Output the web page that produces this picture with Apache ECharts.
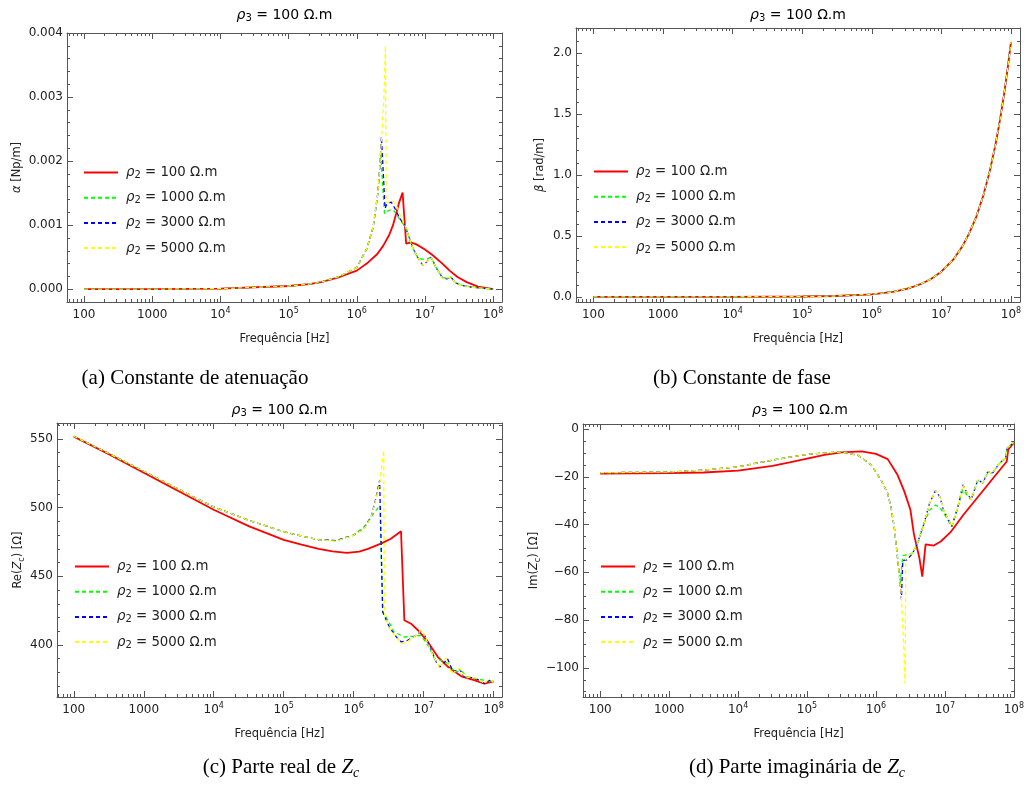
<!DOCTYPE html>
<html><head><meta charset="utf-8">
<script src="https://cdn.jsdelivr.net/npm/echarts@6/dist/echarts.min.js"></script>
<style>html,body{margin:0;padding:0;background:#fff}#c{width:1027px;height:794px}</style>
</head><body><div id="c"></div>
<script>
// ---------------- DATA ----------------
const seriesNames = ['ρ2 = 100 Ω.m', 'ρ2 = 1000 Ω.m', 'ρ2 = 3000 Ω.m', 'ρ2 = 5000 Ω.m'];
const rhoValues = ['100', '1000', '3000', '5000'];
const xTickExponents = [2, 3, 4, 5, 6, 7, 8];

// (a) attenuation constant alpha [Np/m] : [frequency Hz, value]
const alphaRho100 = [[100,0],[1e3,0.000001],[1e4,0.000008],[1e5,0.00005],[2e5,0.00008],[3e5,0.00011],[5.6e5,0.00019],[1e6,0.00029],[1.4e6,0.0004],[2e6,0.00055],[2.45e6,0.00068],[3e6,0.00085],[3.4e6,0.001],[4.2e6,0.00136],[4.7e6,0.00151],[5.3e6,0.00071],[6.2e6,0.00073],[7.5e6,0.0007],[1e7,0.00062],[1.3e7,0.00053],[1.8e7,0.0004],[2.3e7,0.00029],[3e7,0.00019],[4.1e7,0.00011],[6e7,0.00004],[1e8,0]];
const alphaRho1000 = [[100,0],[1e3,0.000001],[1e4,0.000008],[1e5,0.00005],[2e5,0.00008],[3e5,0.00011],[5.6e5,0.0002],[1e6,0.00034],[1.4e6,0.00063],[1.74e6,0.00097],[2.04e6,0.0015],[2.15e6,0.0018],[2.25e6,0.0021],[2.55e6,0.00118],[2.8e6,0.00122],[3.2e6,0.00124],[3.55e6,0.00122],[4.2e6,0.0011],[5.2e6,0.00097],[6.6e6,0.00065],[7.8e6,0.0005],[8.9e6,0.00047],[1.05e7,0.00047],[1.23e7,0.0005],[1.45e7,0.00034],[1.8e7,0.00018],[2.1e7,0.00017],[2.4e7,0.00019],[2.8e7,0.0001],[3.5e7,0.00006],[5e7,0.00003],[1e8,0]];
const alphaRho3000 = [[100,0],[1e3,0.000001],[1e4,0.000008],[1e5,0.00005],[2e5,0.00008],[3e5,0.00011],[5.6e5,0.0002],[1e6,0.00034],[1.4e6,0.00063],[1.74e6,0.00097],[2.04e6,0.0015],[2.2e6,0.002],[2.3e6,0.00238],[2.6e6,0.00126],[2.75e6,0.00133],[3.2e6,0.00136],[3.55e6,0.00128],[4.2e6,0.00112],[5.2e6,0.00097],[6.6e6,0.00065],[7.8e6,0.0005],[9.3e6,0.00037],[1.05e7,0.00042],[1.23e7,0.0005],[1.45e7,0.00034],[1.8e7,0.00018],[2.1e7,0.00016],[2.4e7,0.00019],[2.8e7,0.0001],[3.5e7,0.00006],[5e7,0.00003],[1e8,0]];
const alphaRho5000 = [[100,0],[1e3,0.000001],[1e4,0.000008],[1e5,0.00005],[2e5,0.00008],[3e5,0.00011],[5.6e5,0.0002],[1e6,0.00034],[1.4e6,0.00063],[1.74e6,0.00097],[2.04e6,0.0015],[2.2e6,0.002],[2.3e6,0.0023],[2.5e6,0.003],[2.63e6,0.0038],[2.7e6,0.00135],[3.4e6,0.00138],[3.9e6,0.00128],[4.4e6,0.00114],[5.2e6,0.00097],[6.6e6,0.00065],[7.8e6,0.0005],[9.3e6,0.00037],[1.05e7,0.00042],[1.23e7,0.0005],[1.45e7,0.00034],[1.8e7,0.00017],[2.4e7,0.00018],[2.8e7,0.0001],[3.5e7,0.00006],[5e7,0.00003],[1e8,0]];

// (b) phase constant beta [rad/m]
const betaRho100 = [[100,0.0002],[1e3,0.0006],[1e4,0.0015],[1e5,0.004],[3e5,0.008],[1e6,0.022],[2e6,0.042],[3.16e6,0.067],[4e6,0.085],[5e6,0.105],[7e6,0.146],[1e7,0.207],[1.5e7,0.31],[2e7,0.415],[2.5e7,0.52],[3.16e7,0.655],[4e7,0.83],[5e7,1.04],[6e7,1.25],[7e7,1.46],[8e7,1.67],[9e7,1.88],[1e8,2.09]];
const betaRho1000 = [[100,0.0002],[1e3,0.0006],[1e4,0.0015],[1e5,0.004],[3e5,0.008],[1e6,0.022],[2e6,0.042],[3.16e6,0.067],[4e6,0.085],[5e6,0.105],[7e6,0.146],[1e7,0.207],[1.5e7,0.31],[2e7,0.415],[2.5e7,0.52],[3.16e7,0.655],[4e7,0.83],[5e7,1.04],[6e7,1.25],[7e7,1.46],[8e7,1.67],[9e7,1.88],[1e8,2.09]];
const betaRho3000 = [[100,0.0002],[1e3,0.0006],[1e4,0.0015],[1e5,0.004],[3e5,0.008],[1e6,0.022],[2e6,0.042],[3.16e6,0.067],[4e6,0.085],[5e6,0.105],[7e6,0.146],[1e7,0.207],[1.5e7,0.31],[2e7,0.415],[2.5e7,0.52],[3.16e7,0.655],[4e7,0.83],[5e7,1.04],[6e7,1.25],[7e7,1.46],[8e7,1.67],[9e7,1.88],[1e8,2.09]];
const betaRho5000 = [[100,0.0002],[1e3,0.0006],[1e4,0.0015],[1e5,0.004],[3e5,0.008],[1e6,0.022],[2e6,0.042],[3.16e6,0.067],[4e6,0.085],[5e6,0.105],[7e6,0.146],[1e7,0.207],[1.5e7,0.31],[2e7,0.415],[2.5e7,0.52],[3.16e7,0.655],[4e7,0.83],[5e7,1.04],[6e7,1.25],[7e7,1.46],[8e7,1.67],[9e7,1.88],[1e8,2.09]];

// (c) Re(Zc) [Ohm]
const reRho100 = [[100,551.7],[316,539],[1e3,525.5],[3.16e3,512],[1e4,498.5],[3.16e4,486.5],[1e5,476.5],[1.8e5,473],[3.16e5,470],[5e5,468.2],[8e5,467],[1.2e6,468],[1.6e6,470],[2.45e6,473.8],[3.4e6,477.4],[4.75e6,482.8],[5.3e6,418],[6.6e6,415.5],[8.3e6,410.7],[1.15e7,402.2],[1.6e7,391.2],[2.25e7,383.9],[3.45e7,377.2],[5.4e7,374.2],[7.4e7,371.8],[1e8,373.5]];
const reRho1000 = [[100,552],[316,539.5],[1e3,526.5],[3.16e3,513.4],[1e4,500.5],[3.16e4,490.8],[1e5,482.5],[1.8e5,479.3],[3.16e5,476.7],[5.6e5,476],[1e6,480],[1.4e6,485.9],[2e6,496.8],[2.38e6,501.7],[2.6e6,424],[3.1e6,417.9],[3.8e6,409.4],[5.3e6,405.8],[7e6,406.3],[9.1e6,407],[1.2e7,398.5],[1.43e7,390],[1.78e7,388.8],[2.24e7,386.4],[2.75e7,380.3],[3.47e7,381],[4.27e7,376.7],[6.6e7,374.7],[1e8,373]];
const reRho3000 = [[100,552],[316,539.5],[1e3,526.5],[3.16e3,513.4],[1e4,500.5],[3.16e4,490.8],[1e5,482.5],[1.8e5,479.3],[3.16e5,476.7],[5.6e5,476],[1e6,480],[1.4e6,484.7],[1.78e6,493.2],[2.1e6,507.8],[2.35e6,519.9],[2.6e6,424],[3.24e6,413],[4.07e6,405.8],[4.8e6,402.2],[5.9e6,403.4],[7.8e6,407],[9.1e6,410.2],[1.07e7,405.8],[1.29e7,396.1],[1.51e7,387.6],[1.7e7,383.9],[2e7,387.6],[2.19e7,390],[2.63e7,380.3],[3.24e7,382.7],[3.8e7,376.7],[4.8e7,376.2],[6e7,374.7],[7.4e7,371.8],[8.7e7,374.2],[1e8,373]];
const reRho5000 = [[100,552],[316,539.5],[1e3,526.5],[3.16e3,513.4],[1e4,500.5],[3.16e4,490.8],[1e5,482.5],[1.8e5,479.3],[3.16e5,476.7],[5.6e5,475.5],[1e6,480],[1.4e6,484.5],[1.78e6,493],[2e6,502.9],[2.35e6,517.5],[2.69e6,541.8],[2.75e6,422.8],[3.24e6,412],[4.8e6,401],[5.9e6,402.5],[7.8e6,407],[9.3e6,411],[1.07e7,405],[1.29e7,395],[1.7e7,383],[2.09e7,390.7],[2.5e7,379],[3.24e7,383],[4e7,376],[5e7,377],[7.4e7,372],[8.5e7,375],[1e8,373]];

// (d) Im(Zc) [Ohm]
const imRho100 = [[100,-18.7],[1e3,-18.5],[3.16e3,-18.2],[1e4,-17.4],[3.16e4,-15.4],[5.6e4,-14],[1e5,-12.4],[1.8e5,-10.8],[3.16e5,-9.8],[6.2e5,-9.4],[1e6,-10.4],[1.48e6,-12.6],[2.04e6,-19],[2.57e6,-26],[3.16e6,-33.8],[3.55e6,-44],[4.27e6,-54],[4.7e6,-61.8],[5.25e6,-48.3],[6.9e6,-48.8],[8.7e6,-47.1],[1.2e7,-43.3],[1.86e7,-35.9],[3.2e7,-27.5],[5e7,-20.6],[7.9e7,-13.6],[8.3e7,-8.5],[1e8,-5.8]];
const imRho1000 = [[100,-18.3],[1e3,-18],[3.16e3,-17.2],[1e4,-15.8],[3.16e4,-13],[1e5,-10.6],[3.16e5,-9.6],[5.5e5,-11],[8.5e5,-15],[1.17e6,-21],[1.48e6,-27],[1.66e6,-33],[1.86e6,-42],[2.04e6,-53],[2.25e6,-64.5],[2.45e6,-53],[2.82e6,-52.7],[3.4e6,-52],[4e6,-47.8],[5e6,-39.4],[6e6,-34],[7.3e6,-31.8],[8.5e6,-33],[9.5e6,-35],[1.26e7,-40.8],[1.55e7,-32.5],[1.82e7,-25.5],[2.4e7,-29.7],[3e7,-21.5],[3.55e7,-22.6],[4.2e7,-18],[4.9e7,-18.5],[6.2e7,-14.3],[7.6e7,-12.2],[8e7,-8],[1e8,-5.6]];
const imRho3000 = [[100,-18.3],[1e3,-18],[3.16e3,-17.2],[1e4,-15.8],[3.16e4,-13],[1e5,-10.6],[3.16e5,-9.6],[5.5e5,-11],[8.5e5,-15],[1.17e6,-21],[1.48e6,-27],[1.66e6,-33],[1.86e6,-42],[2.04e6,-53],[2.2e6,-62],[2.34e6,-71.3],[2.45e6,-55],[2.82e6,-54.8],[3.4e6,-52],[4e6,-47.8],[5e6,-39.4],[6e6,-31],[7.3e6,-25.8],[8.5e6,-28.5],[9.5e6,-33.8],[1.26e7,-40.8],[1.55e7,-32.5],[1.82e7,-23.4],[2.4e7,-29.7],[3e7,-21.3],[3.55e7,-22.6],[4.2e7,-17.8],[4.9e7,-18.5],[6.2e7,-14.3],[7.6e7,-12.2],[8e7,-8],[1e8,-5.6]];
const imRho5000 = [[100,-18.3],[1e3,-18],[3.16e3,-17.2],[1e4,-15.8],[3.16e4,-13],[1e5,-10.6],[3.16e5,-9.6],[5.5e5,-11],[8.5e5,-15],[1.17e6,-21],[1.48e6,-27],[1.66e6,-33],[1.86e6,-42],[2.04e6,-53],[2.2e6,-62],[2.34e6,-70],[2.5e6,-88],[2.65e6,-106.5],[2.7e6,-53.5],[3.4e6,-52],[4e6,-47.8],[5e6,-39.4],[6e6,-31],[7.3e6,-25.8],[8.5e6,-28.5],[9.5e6,-33.8],[1.26e7,-40.8],[1.55e7,-32.5],[1.82e7,-23.4],[2.4e7,-29.7],[3e7,-21.3],[3.55e7,-22.6],[4.2e7,-17.8],[4.9e7,-18.5],[6.2e7,-14.3],[7.6e7,-12.2],[8e7,-8],[1e8,-5.6]];

// ---------------- LAYOUT / STYLE ----------------
const FONT = 'DejaVu Sans';
const SERIF = 'Liberation Serif';
const TXT = '#222';
const FRAME = '#555';
const colors = ['#ff0000', '#00ff00', '#0000ff', '#ffff00'];

const panels = [
  { grid:{left:67, top:33, width:435, height:269}, xr:[1.75, 8.13],
    y:{min:-0.0002, max:0.004, step:0.001, minor:5, digits:3},
    yName:'{i|α}{n| [Np/m]}', yNameGap:42, legend:{left:83, top:166},
    title:{x:284.5, y:15}, caption:{x:195, y:378, text:'{n|(a) Constante de atenuação}'},
    data:[alphaRho100, alphaRho1000, alphaRho3000, alphaRho5000] },
  { grid:{left:576, top:28, width:444, height:274}, xr:[1.75, 8.13],
    y:{min:-0.041, max:2.205, step:0.5, minor:5, digits:1},
    yName:'{i|β}{n| [rad/m]}', yNameGap:28, legend:{left:593, top:165},
    title:{x:798, y:15}, caption:{x:742, y:378, text:'{n|(b) Constante de fase}'},
    data:[betaRho100, betaRho1000, betaRho3000, betaRho5000] },
  { grid:{left:57, top:423, width:445, height:274}, xr:[1.76, 8.12],
    y:{min:362.1, max:561.65, step:50, minor:5, digits:0},
    yName:'{n|Re(}{i|Z}{sub|c}{n|) [Ω]}', yNameGap:31, legend:{left:74, top:560},
    title:{x:279.5, y:410}, caption:{x:281, y:767, text:'{n|(c) Parte real de }{i|Z}{sub|c}'},
    data:[reRho100, reRho1000, reRho3000, reRho5000] },
  { grid:{left:583, top:424, width:435, height:273}, xr:[1.75, 8.005],
    y:{min:-112.2, max:2.1, step:20, minor:4, digits:0},
    yName:'{n|Im(}{i|Z}{sub|c}{n|) [Ω]}', yNameGap:40, legend:{left:600, top:560},
    title:{x:800, y:410}, caption:{x:797, y:767, text:'{n|(d) Parte imaginária de }{i|Z}{sub|c}'},
    data:[imRho100, imRho1000, imRho3000, imRho5000] }
];

const richSans = (size) => ({
  n:{fontFamily:FONT, fontSize:size, lineHeight:16, color:TXT},
  i:{fontFamily:FONT, fontSize:size, fontStyle:'italic', lineHeight:16, color:TXT},
  sub:{fontFamily:FONT, fontSize:Math.round(size*0.72), lineHeight:9, verticalAlign:'bottom', color:TXT}
});
const richSerif = {
  n:{fontFamily:SERIF, fontSize:21, lineHeight:26, color:'#000'},
  i:{fontFamily:SERIF, fontSize:21, fontStyle:'italic', lineHeight:26, color:'#000'},
  sub:{fontFamily:SERIF, fontSize:14, fontStyle:'italic', lineHeight:14, verticalAlign:'bottom', color:'#000'}
};

const minorExps = [];
for (let n = 1; n <= 8; n++) for (let k = 2; k <= 9; k++) minorExps.push(Math.log10(k) + n);

const xLabelFmt = v => {
  const e = Math.round(v);
  if (e === 2) return '{b|100}';
  if (e === 3) return '{b|1000}';
  return '{b|10}{sup|' + e + '}';
};

const xAxis = [], yAxis = [], series = [], legend = [], graphic = [];
const lineCol = {color:FRAME, width:1};

panels.forEach((p, k) => {
  const base = xAxis.length;
  xAxis.push({ type:'log', logBase:10, gridIndex:k, min:Math.pow(10, p.xr[0]), max:Math.pow(10, p.xr[1]), show:false });
  const dec = (pos, major, showLine, extra) => Object.assign({
    type:'value', gridIndex:k, position:pos, min:p.xr[0], max:p.xr[1],
    axisLine:{show:showLine, onZero:false, lineStyle:lineCol},
    axisTick:{show:true, inside:true, length: major ? 6 : 3, customValues: major ? xTickExponents : minorExps, lineStyle:lineCol},
    axisLabel:{show:false},
    splitLine:{show:false}, minorTick:{show:false}
  }, extra || {});
  xAxis.push(dec('bottom', true, true, {
    axisLabel:{show:true, customValues:xTickExponents, formatter:xLabelFmt, margin:5,
      rich:{ b:{fontFamily:FONT, fontSize:12, lineHeight:16, color:TXT}, sup:{fontFamily:FONT, fontSize:8, lineHeight:8, verticalAlign:'top', color:TXT} }},
    name:'Frequência [Hz]', nameLocation:'middle', nameGap:31,
    nameTextStyle:{fontFamily:FONT, fontSize:11.5, color:TXT}
  }));
  xAxis.push(dec('bottom', false, false));
  xAxis.push(dec('top', true, true));
  xAxis.push(dec('top', false, false));

  const yb = yAxis.length;
  const isNice = v => Math.abs(v / p.y.step - Math.round(v / p.y.step)) < 1e-6;
  const yFmt = v => {
    const s = Math.abs(v).toFixed(p.y.digits);
    return v < -1e-12 ? '−' + s : s;
  };
  const yCommon = {
    type:'value', gridIndex:k, min:p.y.min, max:p.y.max, minInterval:p.y.step, maxInterval:p.y.step,
    axisLine:{show:true, onZero:false, lineStyle:lineCol},
    axisTick:{show:true, inside:true, length:6, lineStyle:lineCol},
    minorTick:{show:true, splitNumber:p.y.minor, length:3, lineStyle:lineCol},
    splitLine:{show:false}, minorSplitLine:{show:false}
  };
  yAxis.push(Object.assign({}, yCommon, {
    position:'left',
    axisLabel:{show:true, formatter:yFmt, margin:4, fontFamily:FONT, fontSize:12, color:TXT,
      showMinLabel:isNice(p.y.min), showMaxLabel:isNice(p.y.max)},
    name:p.yName, nameLocation:'middle', nameGap:p.yNameGap, nameRotate:90,
    nameTextStyle:{rich:richSans(11.5)}
  }));
  yAxis.push(Object.assign({}, yCommon, { position:'right', axisLabel:{show:false} }));

  p.data.forEach((d, i) => {
    series.push({
      type:'line', name:seriesNames[i], xAxisIndex:base, yAxisIndex:yb, data:d,
      symbol:'none', showSymbol:false, color:colors[i], z:2 + i,
      lineStyle: i === 0 ? {color:colors[i], width:1.8, type:'solid'} : {color:colors[i], width:1.3, type:[4, 3]},
      emphasis:{disabled:true}
    });
  });

  legend.push({
    data:seriesNames, orient:'vertical', left:p.legend.left, top:p.legend.top,
    itemWidth:34, itemHeight:14, itemGap:10.7, padding:0, selectedMode:false,
    itemStyle:{opacity:0},
    formatter: name => '{i|ρ}{sub|2}{n| = ' + rhoValues[seriesNames.indexOf(name)] + ' Ω.m}',
    textStyle:{rich:richSans(13.3), padding:[0,0,0,3]}
  });

  graphic.push({ type:'text', x:p.title.x, y:p.title.y,
    style:{ text:'{i|ρ}{sub|3}{n| = 100 Ω.m}', rich:richSans(14), align:'center', verticalAlign:'middle', textAlign:'center', textVerticalAlign:'middle' } });
  graphic.push({ type:'text', x:p.caption.x, y:p.caption.y,
    style:{ text:p.caption.text, rich:richSerif, align:'center', verticalAlign:'middle', textAlign:'center', textVerticalAlign:'middle' } });
});

const option = {
  animation:false,
  backgroundColor:'#fff',
  grid: panels.map(p => Object.assign({containLabel:false}, p.grid)),
  xAxis, yAxis, series, legend, graphic
};

const chart = echarts.init(document.getElementById('c'), null, {renderer:'canvas'});
chart.setOption(option);
</script>
</body></html>
